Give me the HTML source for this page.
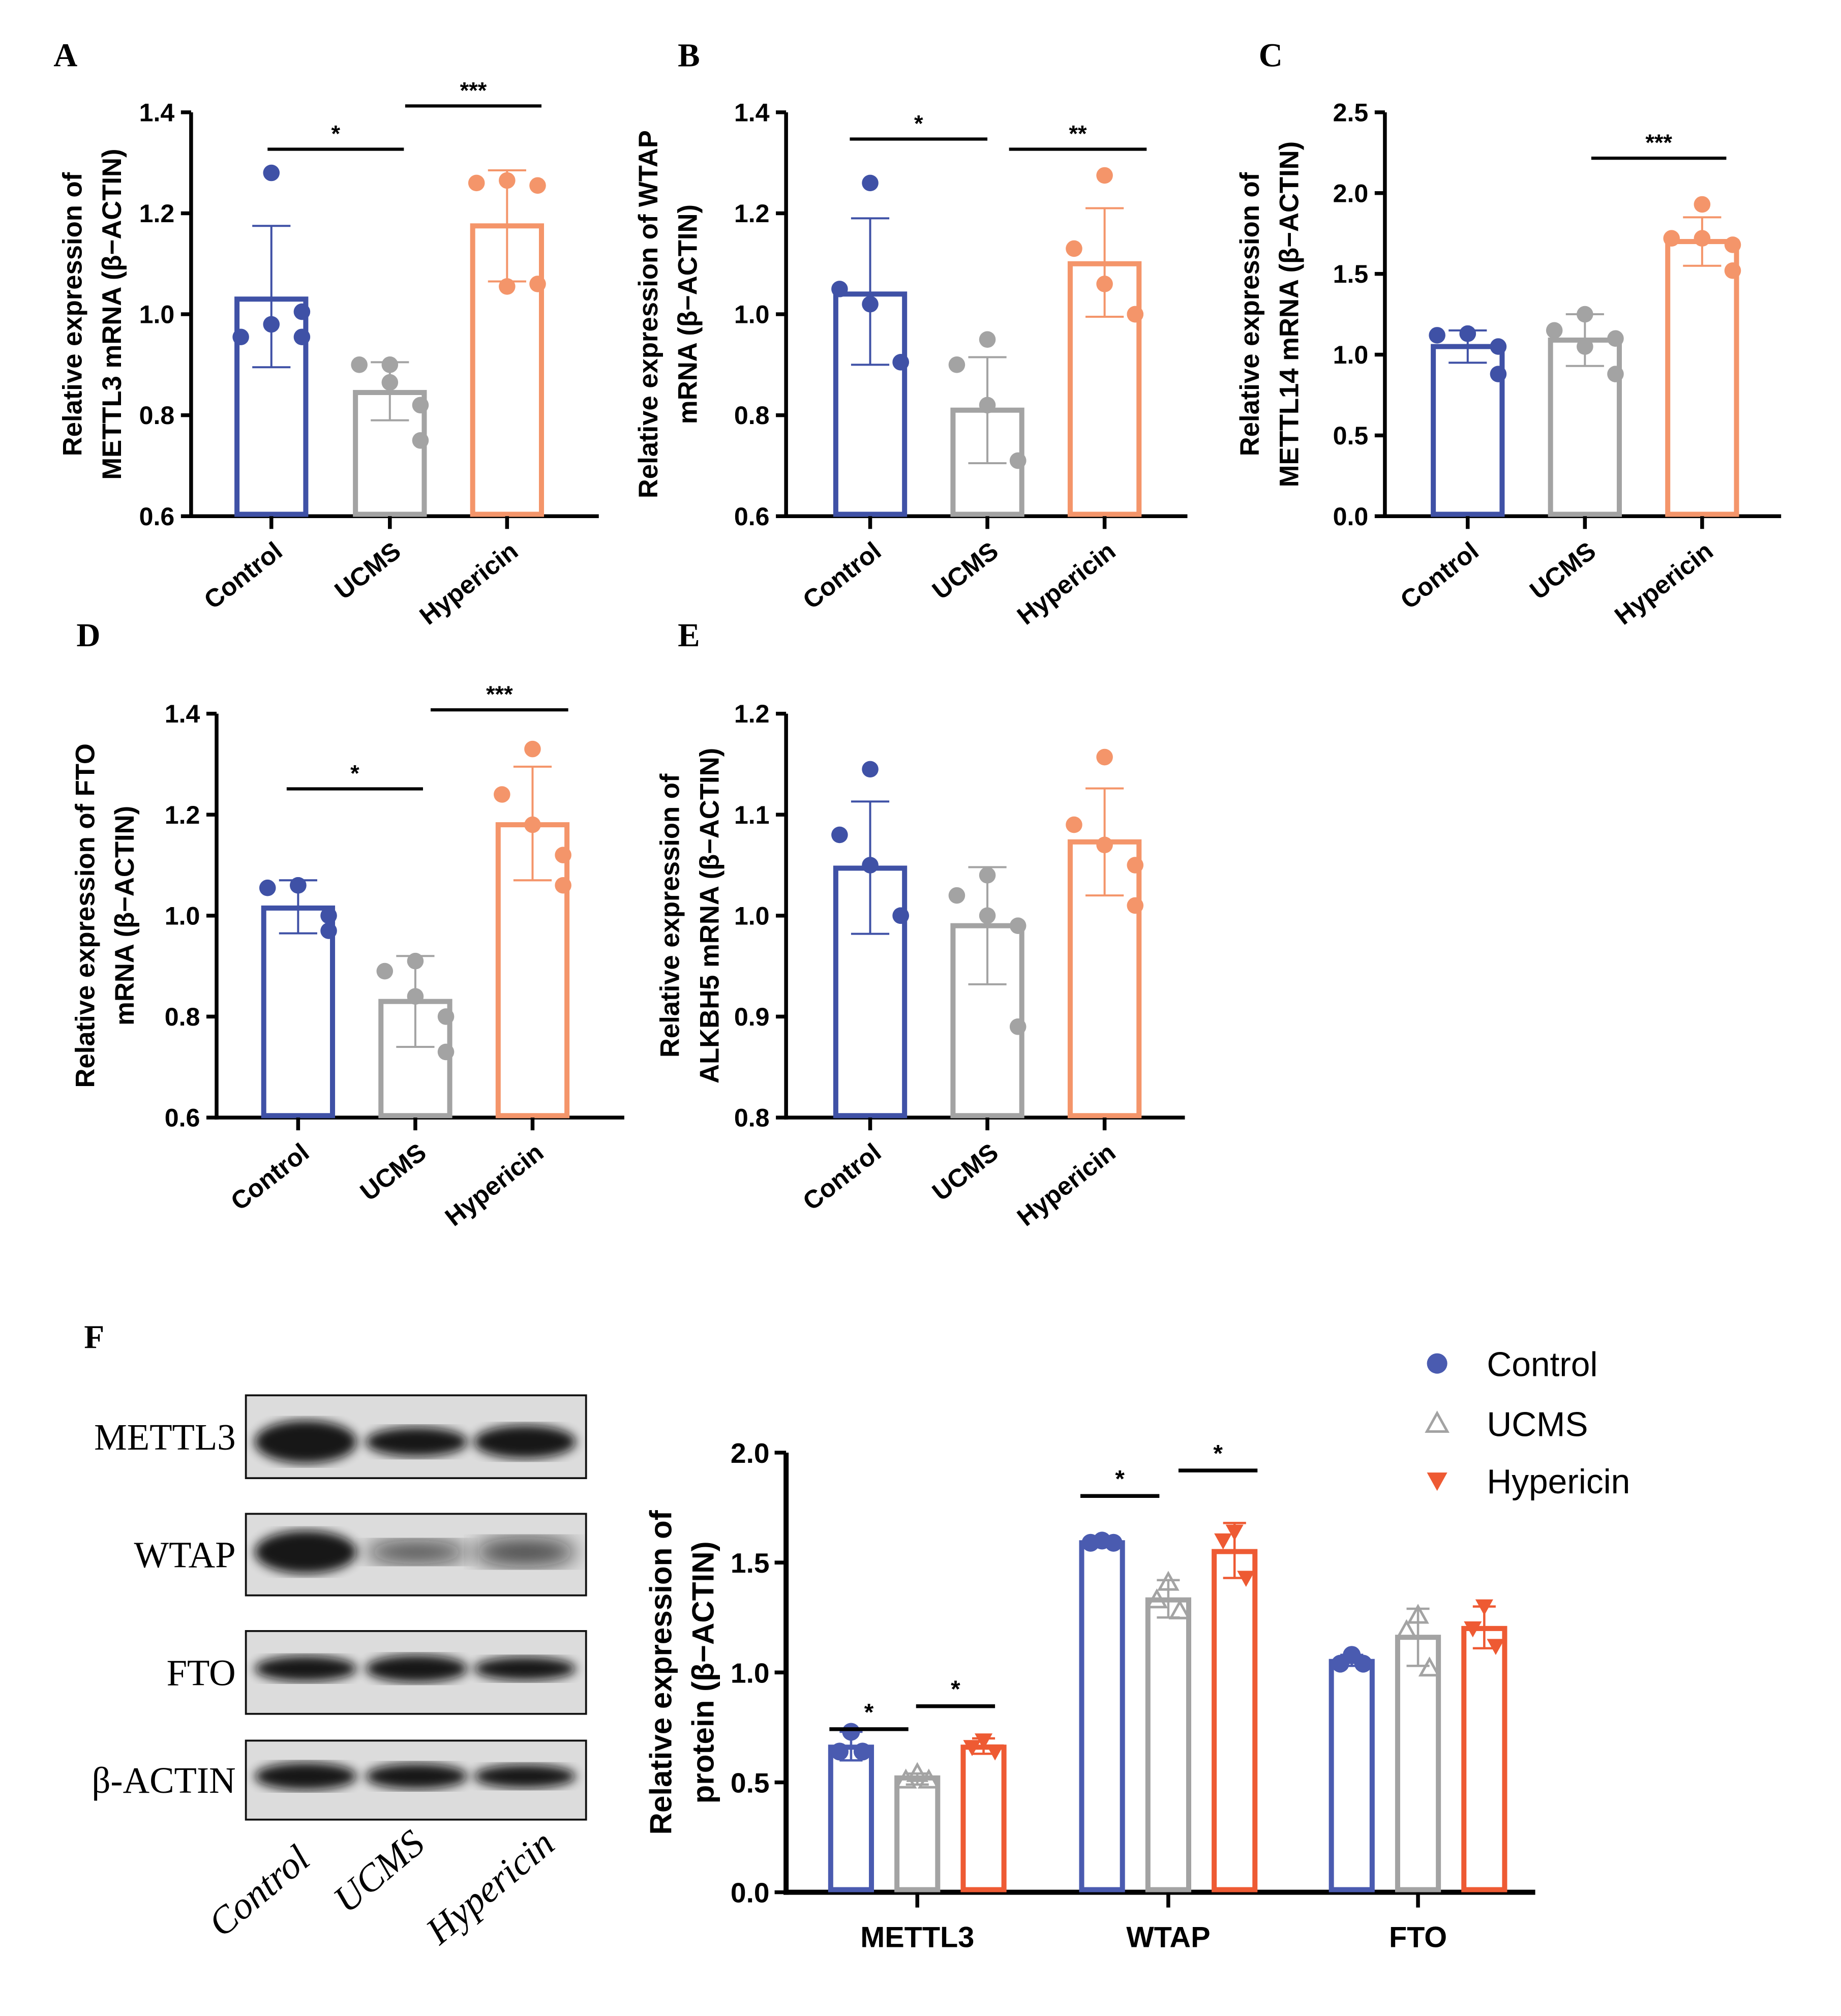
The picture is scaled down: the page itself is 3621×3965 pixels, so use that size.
<!DOCTYPE html>
<html><head><meta charset="utf-8">
<style>
html,body{margin:0;padding:0;background:#fff;}
svg{display:block;font-family:"Liberation Sans",Arial,sans-serif;}
</style></head>
<body>
<svg id="fig" width="3621" height="3965" viewBox="0 0 1445 1582" xmlns="http://www.w3.org/2000/svg">
<rect width="1445" height="1582" fill="#fff"/>
</svg>
<script>
const groups = ["Control","UCMS","Hypericin"];
// Panel A METTL3 mRNA
const aMeans = [1.03, 0.845, 1.175];
const aErrLo = [0.895, 0.79, 1.065];
const aErrHi = [1.175, 0.905, 1.285];
const aPts = [[1.28,0.955,0.98,1.005,0.955],[0.90,0.90,0.865,0.82,0.75],[1.265,1.26,1.055,1.255,1.06]];
const aTicks = [0.6,0.8,1.0,1.2,1.4];
// Panel B WTAP mRNA
const bMeans = [1.04, 0.81, 1.10];
const bErrLo = [0.90, 0.705, 0.995];
const bErrHi = [1.19, 0.915, 1.21];
const bPts = [[1.26,1.05,1.02,0.905,0.905],[0.95,0.90,0.82,0.71,0.71],[1.275,1.13,1.06,1.0,1.0]];
const bTicks = [0.6,0.8,1.0,1.2,1.4];
// Panel C METTL14 mRNA
const cMeans = [1.05, 1.09, 1.70];
const cErrLo = [0.95, 0.93, 1.55];
const cErrHi = [1.15, 1.25, 1.85];
const cPts = [[1.13,1.12,1.13,0.88,1.05],[1.25,1.15,1.05,0.88,1.10],[1.93,1.72,1.72,1.52,1.68]];
const cTicks = [0.0,0.5,1.0,1.5,2.0,2.5];
// Panel D FTO mRNA
const dMeans = [1.015, 0.83, 1.18];
const dErrLo = [0.965, 0.74, 1.07];
const dErrHi = [1.07, 0.92, 1.295];
const dPts = [[1.06,1.055,1.06,1.0,0.97],[0.91,0.89,0.84,0.80,0.73],[1.33,1.24,1.18,1.12,1.06]];
const dTicks = [0.6,0.8,1.0,1.2,1.4];
// Panel E ALKBH5 mRNA
const eMeans = [1.047, 0.99, 1.073];
const eErrLo = [0.982, 0.932, 1.02];
const eErrHi = [1.113, 1.048, 1.126];
const ePts = [[1.145,1.08,1.05,1.0,1.0],[1.04,1.02,1.0,0.99,0.89],[1.157,1.09,1.07,1.05,1.01]];
const eTicks = [0.8,0.9,1.0,1.1,1.2];
// Panel F protein
const fCats = ["METTL3","WTAP","FTO"];
const fMeans = [[0.66,0.52,0.66],[1.59,1.33,1.55],[1.05,1.16,1.20]];
const fErrLo = [[0.60,0.49,0.63],[1.58,1.25,1.43],[1.03,1.03,1.11]];
const fErrHi = [[0.73,0.54,0.70],[1.61,1.42,1.68],[1.08,1.29,1.30]];
const fPts = [[[0.73,0.64,0.64],[0.54,0.51,0.51],[0.69,0.66,0.64]],[[1.60,1.59,1.59],[1.41,1.33,1.28],[1.64,1.60,1.43]],[[1.08,1.04,1.04],[1.26,1.19,1.02],[1.30,1.20,1.12]]];
const fTicks = [0.0,0.5,1.0,1.5,2.0];

const NS="http://www.w3.org/2000/svg";
const svg=document.getElementById('fig');
function el(tag,attrs,parent,text){const e=document.createElementNS(NS,tag);for(const k in attrs)e.setAttribute(k,attrs[k]);if(text!==undefined)e.textContent=text;(parent||svg).appendChild(e);return e;}
const colM=["#3f51a6","#a3a3a3","#f4956a"];
const colF=["#4a5bb0","#a3a3a3","#ee5a33"];
const jit=[0,-24,0,24,24];

function mrnaPanel(o){
  const g=el('g',{});
  
  
  const y=v=>o.y0-(v-o.vmin)/(o.vmax-o.vmin)*(o.y0-o.y1);
  const L=el('text',{x:o.lx,y:o.ly,'font-family':'Liberation Serif,serif','font-weight':'bold','font-size':26},g,o.letter);
  
  el('line',{x1:o.ax,y1:o.y1,x2:o.ax,y2:o.y0+1.5,stroke:'#000','stroke-width':3},g);
  el('line',{x1:o.ax-1.5,y1:o.y0,x2:o.xEnd,y2:o.y0,stroke:'#000','stroke-width':3},g);
  o.ticks.forEach(t=>{
    el('line',{x1:o.ax-8,y1:y(t),x2:o.ax,y2:y(t),stroke:'#000','stroke-width':3},g);
    const tl=el('text',{x:o.ax-13,y:y(t)+7,'text-anchor':'end','font-weight':'bold','font-size':20},g,t.toFixed(1));
    
  });
  const yl=el('text',{transform:`translate(${o.tx},${(o.y0+o.y1)/2}) rotate(-90)`,'text-anchor':'middle','font-weight':'bold','font-size':21},g);
  
  el('tspan',{x:0,y:0},yl,o.t1);el('tspan',{x:0,y:31},yl,o.t2);
  o.cx.forEach((cx,i)=>{
    const b=el('rect',{x:cx-27,y:y(o.means[i]),width:54,height:o.y0-y(o.means[i])-1.5,fill:'none',stroke:colM[i],'stroke-width':4},g);
    
    el('line',{x1:cx,y1:y(o.lo[i]),x2:cx,y2:y(o.hi[i]),stroke:colM[i],'stroke-width':1.6},g);
    el('line',{x1:cx-15,y1:y(o.lo[i]),x2:cx+15,y2:y(o.lo[i]),stroke:colM[i],'stroke-width':1.6},g);
    el('line',{x1:cx-15,y1:y(o.hi[i]),x2:cx+15,y2:y(o.hi[i]),stroke:colM[i],'stroke-width':1.6},g);
    o.pts[i].forEach((p,j)=>{
      const c=el('circle',{cx:cx+jit[j],cy:y(p),r:6.5,fill:colM[i]},g);
      
    });
    el('line',{x1:cx,y1:o.y0,x2:cx,y2:o.y0+10,stroke:'#000','stroke-width':3},g);
    const cl=el('text',{transform:`translate(${cx+10},${o.y0+30}) rotate(-38)`,'text-anchor':'end','font-weight':'bold','font-size':20},g,groups[i]);
    
  });
  (o.sig||[]).forEach(s=>{
    el('line',{x1:s[0],y1:s[2],x2:s[1],y2:s[2],stroke:'#000','stroke-width':2.5},g);
    const st=el('text',{x:(s[0]+s[1])/2,y:s[2]-6,'text-anchor':'middle','font-weight':'bold','font-size':18},g,s[3]);
    
  });
}
mrnaPanel({name:'panel-a-mettl3',letter:'A',lx:42,ly:52,ax:150,y0:405,y1:88,vmin:0.6,vmax:1.4,xEnd:470,ticks:aTicks,cx:[213,306,398],means:aMeans,lo:aErrLo,hi:aErrHi,pts:aPts,tx:64,t1:'Relative expression of',t2:'METTL3 mRNA (β−ACTIN)',sig:[[210,317,117,'*'],[318,425,83,'***']]});
mrnaPanel({name:'panel-b-wtap',letter:'B',lx:532,ly:52,ax:617,y0:405,y1:88,vmin:0.6,vmax:1.4,xEnd:932,ticks:bTicks,cx:[683,775,867],means:bMeans,lo:bErrLo,hi:bErrHi,pts:bPts,tx:516,t1:'Relative expression of WTAP',t2:'mRNA (β−ACTIN)',sig:[[667,775,109,'*'],[792,900,117,'**']]});
mrnaPanel({name:'panel-c-mettl14',letter:'C',lx:988,ly:52,ax:1087,y0:405,y1:88,vmin:0,vmax:2.5,xEnd:1398,ticks:cTicks,cx:[1152,1244,1336],means:cMeans,lo:cErrLo,hi:cErrHi,pts:cPts,tx:988,t1:'Relative expression of',t2:'METTL14 mRNA (β−ACTIN)',sig:[[1249,1355,124,'***']]});
mrnaPanel({name:'panel-d-fto',letter:'D',lx:60,ly:507,ax:170,y0:877,y1:560,vmin:0.6,vmax:1.4,xEnd:490,ticks:dTicks,cx:[234,326,418],means:dMeans,lo:dErrLo,hi:dErrHi,pts:dPts,tx:74,t1:'Relative expression of FTO',t2:'mRNA (β−ACTIN)',sig:[[225,332,619,'*'],[338,446,557,'***']]});
mrnaPanel({name:'panel-e-alkbh5',letter:'E',lx:532,ly:507,ax:617,y0:877,y1:560,vmin:0.8,vmax:1.2,xEnd:930,ticks:eTicks,cx:[683,775,867],means:eMeans,lo:eErrLo,hi:eErrHi,pts:ePts,tx:533,t1:'Relative expression of',t2:'ALKBH5 mRNA (β−ACTIN)',sig:[]});

const wb=el('g',{});


const FL=el('text',{x:66,y:1058,'font-family':'Liberation Serif,serif','font-weight':'bold','font-size':26},wb,'F');

const rows=[["METTL3",1095,1160,[22,15,17]],["WTAP",1188,1252,[22,12,15]],["FTO",1280,1345,[13,14,12]],["β-ACTIN",1366,1428,[14,13,12]]];
el('defs',{}).innerHTML='<filter id="blur"><feGaussianBlur stdDeviation="4"/></filter><filter id="blur2"><feGaussianBlur stdDeviation="8"/></filter>';
rows.forEach(r=>{
  const rb=el('g',{},wb);
  
  
  el('rect',{x:193,y:r[1],width:267,height:r[2]-r[1],fill:'#dcdcdc',stroke:'#111','stroke-width':1.5},rb);
  const my=(r[1]+r[2])/2-(r[0]==='WTAP'?2:r[0]==='METTL3'?-4:3);
  [240,327,412].forEach((bx,k)=>{
    el('ellipse',{cx:bx,cy:my,rx:40,ry:r[3][k]/1.3,fill:'#0a0a0a',filter:r[0]==='WTAP'&&k>0?'url(#blur2)':'url(#blur)',opacity:r[0]==='WTAP'&&k>0?0.7:0.95},rb);
  });
  const t=el('text',{x:185,y:(r[1]+r[2])/2+10,'text-anchor':'end','font-family':'Liberation Serif,serif','font-size':29},rb,r[0]);
  
});
[[245,1462,'Control'],[335,1450,'UCMS'],[437,1450,'Hypericin']].forEach(b=>{
  const t=el('text',{transform:`translate(${b[0]},${b[1]}) rotate(-40)`,'text-anchor':'end','font-family':'Liberation Serif,serif','font-style':'italic','font-size':30},wb,b[2]);
  
});

const fg=el('g',{});


const fy0=1485,fy1=1140,fax=617;
const fy=v=>fy0-v/2.0*(fy0-fy1);
el('line',{x1:fax,y1:fy1,x2:fax,y2:fy0+2,stroke:'#000','stroke-width':4},fg);
el('line',{x1:fax-2,y1:fy0,x2:1205,y2:fy0,stroke:'#000','stroke-width':4},fg);
fTicks.forEach(t=>{
  el('line',{x1:fax-9,y1:fy(t),x2:fax,y2:fy(t),stroke:'#000','stroke-width':3},fg);
  const tl=el('text',{x:fax-13,y:fy(t)+8,'text-anchor':'end','font-weight':'bold','font-size':22},fg,t.toFixed(1));
  
});
const fyl=el('text',{transform:`translate(527,${(fy0+fy1)/2}) rotate(-90)`,'text-anchor':'middle','font-weight':'bold','font-size':24},fg);

el('tspan',{x:0,y:0},fyl,'Relative expression of');el('tspan',{x:0,y:33},fyl,'protein (β−ACTIN)');
const gcx=[720,917,1113];
function marker(k,x,yv,parent,s){
  s=s||7;
  let m;
  if(k===0)m=el('circle',{cx:x,cy:yv,r:s,fill:colF[0]},parent);
  else if(k===1)m=el('polygon',{points:`${x},${yv-s} ${x-s},${yv+s*0.8} ${x+s},${yv+s*0.8}`,fill:'none',stroke:colF[1],'stroke-width':2},parent);
  else m=el('polygon',{points:`${x-s},${yv-s*0.8} ${x+s},${yv-s*0.8} ${x},${yv+s}`,fill:colF[2]},parent);
  return m;
}
fCats.forEach((c,ci)=>{
  const cx=gcx[ci];
  [-52,0,52].forEach((off,k)=>{
    const bx=cx+off;
    const b=el('rect',{x:bx-16,y:fy(fMeans[ci][k]),width:32,height:fy0-fy(fMeans[ci][k])-2,fill:'none',stroke:colF[k],'stroke-width':4},fg);
    
    el('line',{x1:bx,y1:fy(fErrLo[ci][k]),x2:bx,y2:fy(fErrHi[ci][k]),stroke:colF[k],'stroke-width':1.8},fg);
    el('line',{x1:bx-9,y1:fy(fErrLo[ci][k]),x2:bx+9,y2:fy(fErrLo[ci][k]),stroke:colF[k],'stroke-width':1.8},fg);
    el('line',{x1:bx-9,y1:fy(fErrHi[ci][k]),x2:bx+9,y2:fy(fErrHi[ci][k]),stroke:colF[k],'stroke-width':1.8},fg);
    fPts[ci][k].forEach((p,j)=>{
      const m=marker(k,bx+[0,-9,9][j],fy(p),fg,7);
      
    });
  });
  el('line',{x1:cx,y1:fy0,x2:cx,y2:fy0+12,stroke:'#000','stroke-width':3},fg);
  const cl=el('text',{x:cx,y:fy0+43,'text-anchor':'middle','font-weight':'bold','font-size':23},fg,c);
  
});
[[651,713,1357],[719,781,1339],[848,910,1174],[925,987,1154]].forEach(s=>{
  el('line',{x1:s[0],y1:s[2],x2:s[1],y2:s[2],stroke:'#000','stroke-width':3},fg);
  const st=el('text',{x:(s[0]+s[1])/2,y:s[2]-7,'text-anchor':'middle','font-weight':'bold','font-size':19},fg,'*');
  
});
[[1070,'Control'],[1117,'UCMS'],[1162,'Hypericin']].forEach((l,k)=>{
  const lg=el('g',{},fg);
  
  
  marker(k,1128,l[0],lg,8);
  el('text',{x:1167,y:l[0]+10,'font-size':27},lg,l[1]);
});
</script>
</body></html>
